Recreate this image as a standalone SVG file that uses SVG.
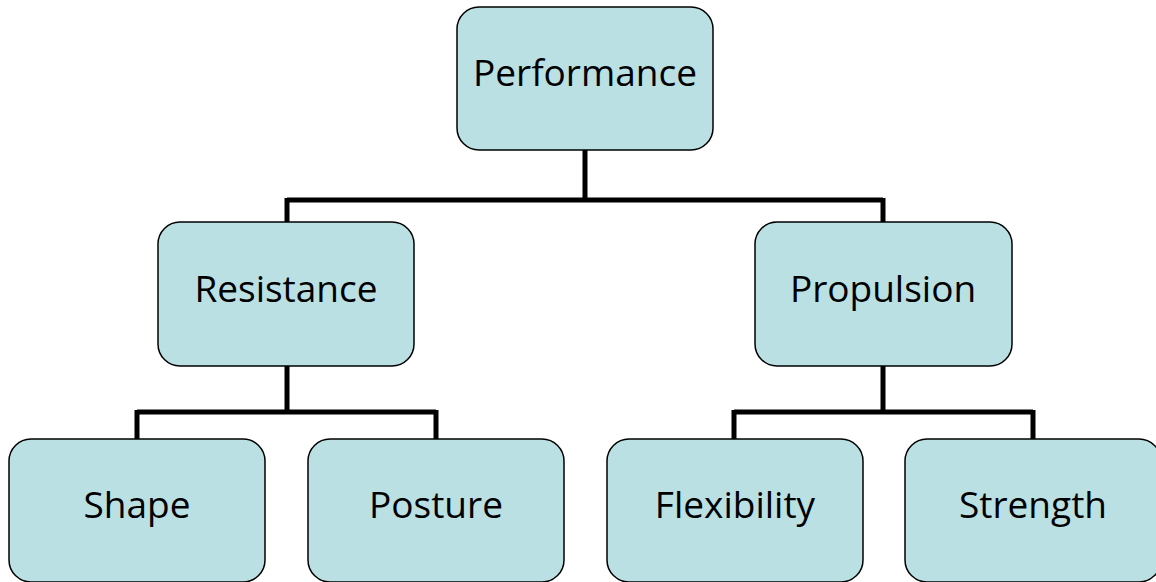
<svg xmlns="http://www.w3.org/2000/svg" width="1156" height="582" viewBox="0 0 1156 582">
<style>
.box{fill:#BBE0E3;stroke:#000;stroke-width:1.5}
.lbl{font-family:"Open Sans","Noto Sans","Liberation Sans",sans-serif;font-size:37px;fill:#000;text-anchor:middle}
.con{fill:none;stroke:#000;stroke-width:5}
</style>
<rect width="1156" height="582" fill="#fff"/>
<g id="connectors">
<path class="con" d="M585 150V200M287 200H883M287 198V222M883 198V222"/>
<path class="con" d="M287 366V412M137 412H436M137 410V439M436 410V439"/>
<path class="con" d="M883 366V412M734 412H1033M734 410V439M1033 410V439"/>
</g>
<g id="performance"><rect class="box" x="457" y="7" width="256" height="143" rx="22"/><text class="lbl" x="585" y="86">Performance</text></g>
<g id="resistance"><rect class="box" x="158" y="222" width="256" height="144" rx="22"/><text class="lbl" x="286" y="302">Resistance</text></g>
<g id="propulsion"><rect class="box" x="755" y="222" width="257" height="144" rx="22"/><text class="lbl" x="883" y="302">Propulsion</text></g>
<g id="shape"><rect class="box" x="9" y="439" width="256" height="143" rx="22"/><text class="lbl" x="137" y="518">Shape</text></g>
<g id="posture"><rect class="box" x="308" y="439" width="256" height="143" rx="22"/><text class="lbl" x="436" y="518">Posture</text></g>
<g id="flexibility"><rect class="box" x="607" y="439" width="256" height="143" rx="22"/><text class="lbl" x="735" y="518">Flexibility</text></g>
<g id="strength"><rect class="box" x="905" y="439" width="256" height="143" rx="22"/><text class="lbl" x="1033" y="518">Strength</text></g>
</svg>
